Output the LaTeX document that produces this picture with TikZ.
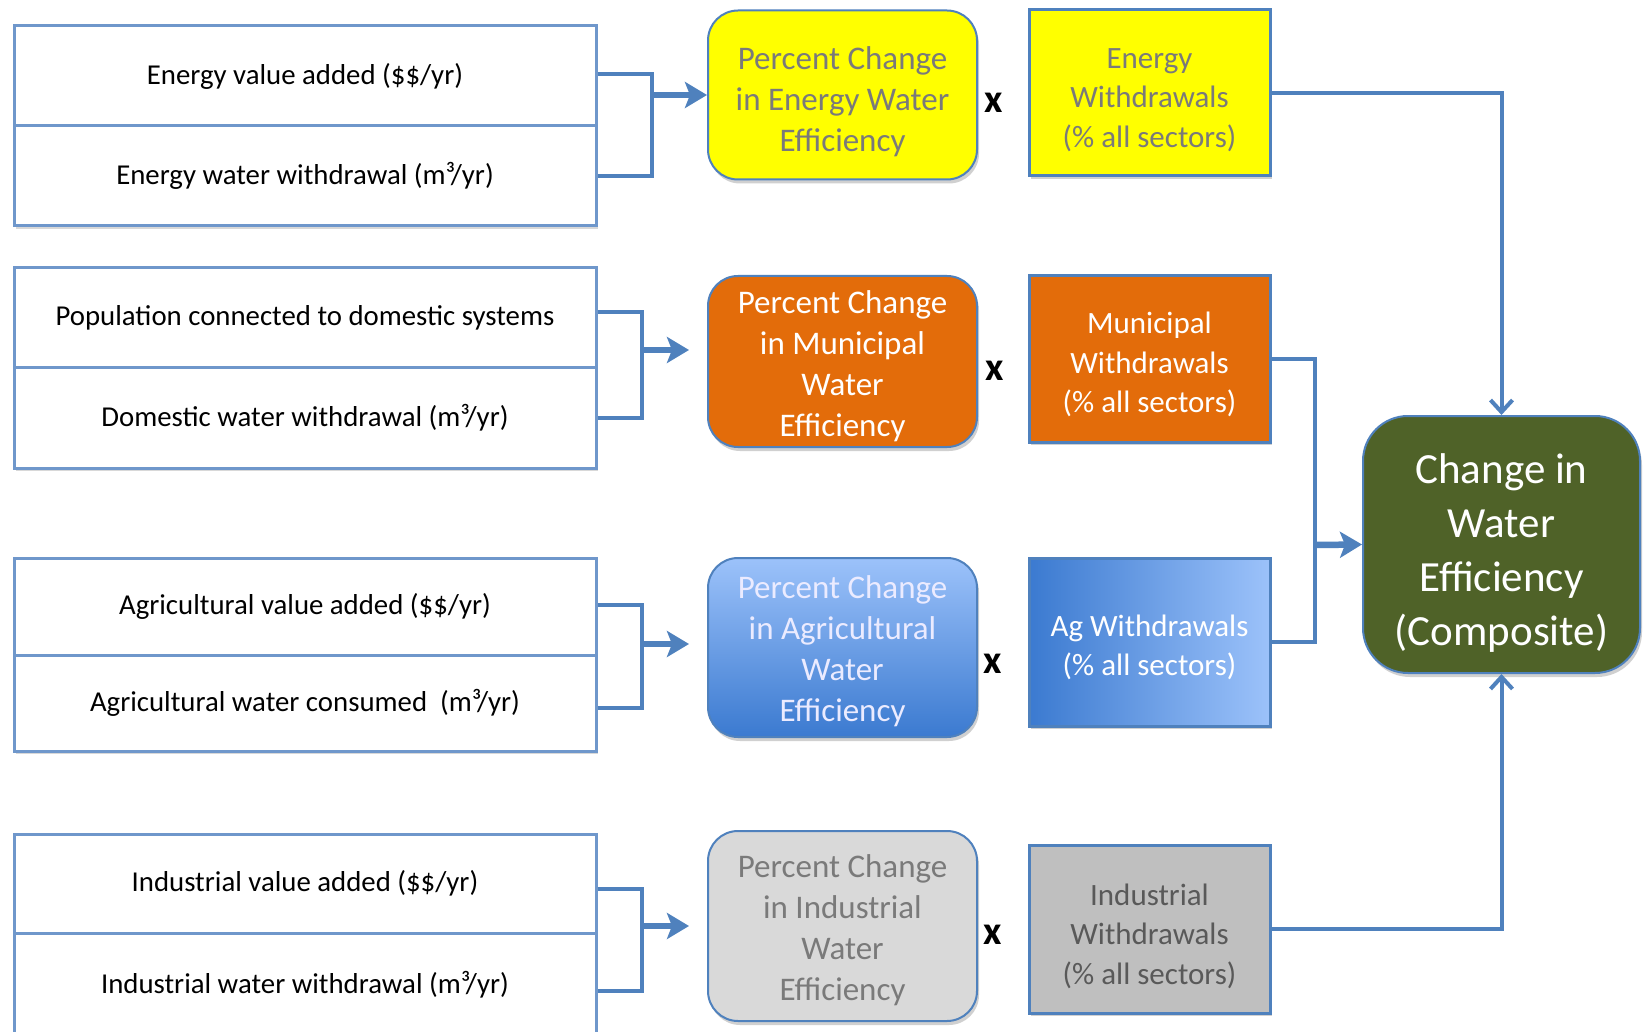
\documentclass[tikz,border=0pt]{standalone}
\usepackage{fontspec}
\setmainfont{Carlito}
\usetikzlibrary{arrows.meta,shadows,calc}
\definecolor{lineblue}{HTML}{4F81BD}
\definecolor{boxblue}{HTML}{6F97CB}
\definecolor{eyellow}{HTML}{FFFF00}
\definecolor{morange}{HTML}{E36C0A}
\definecolor{agdark}{HTML}{3B7AD0}
\definecolor{aglight}{HTML}{9CC2FA}
\definecolor{indlight}{HTML}{D9D9D9}
\definecolor{indmid}{HTML}{BFBFBF}
\definecolor{compgreen}{HTML}{4F6228}
\definecolor{greytext}{HTML}{7A7A7A}
\definecolor{darkgreytext}{HTML}{595959}
\tikzset{
  inbox/.style={draw=boxblue, line width=3pt, fill=white, minimum width=582pt, inner sep=0pt,
    font=\fontsize{28.8}{34}\selectfont, text=black,
    drop shadow={shadow xshift=2pt, shadow yshift=-3pt, opacity=0.25, fill=black!60}},
  pctbox/.style={draw=lineblue, line width=2pt, rounded corners=30pt, minimum width=269pt, inner sep=0pt,
    drop shadow={shadow xshift=2pt, shadow yshift=-4pt, opacity=0.3, fill=black!60}},
  pcttext/.style={align=center, inner sep=0pt, font=\fontsize{33}{41}\selectfont},
  wdbox/.style={draw=lineblue, line width=3pt, minimum width=241pt, minimum height=166pt, inner sep=0pt,
    drop shadow={shadow xshift=2pt, shadow yshift=-3pt, opacity=0.3, fill=black!60}},
  wdtext/.style={align=center, inner sep=0pt, font=\fontsize{31}{39.5}\selectfont},
  timesmark/.style={font=\fontsize{40}{44}\selectfont\bfseries, text=black, inner sep=0pt},
  conn/.style={draw=lineblue, line width=4pt},
  fatarrow/.style={draw=lineblue, line width=6.5pt, -{Stealth[length=22pt, width=26pt, inset=5pt]}},
  thinarrow/.style={draw=lineblue, line width=4pt, -{Straight Barb[length=12pt, width=22pt]}},
}
\begin{document}
\begin{tikzpicture}[x=1pt, y=-1pt]
\useasboundingbox (0,0) rectangle (1650,1032);
\fill[white] (0,0) rectangle (1650,1032);

% ---- left input boxes
\node[inbox, minimum height=100pt] (E1) at (305,76) {Energy value added (\$\$/yr)};
\node[inbox, minimum height=100pt] (E2) at (305,176) {Energy water withdrawal (m³/yr)};
\node[inbox, minimum height=100pt] (M1) at (305,318) {Population connected to domestic systems};
\node[inbox, minimum height=100pt] (M2) at (305,418) {Domestic water withdrawal (m³/yr)};
\node[inbox, minimum height=97pt] (A1) at (305,606.5) {Agricultural value added (\$\$/yr)};
\node[inbox, minimum height=96pt] (A2) at (305,703) {Agricultural water consumed\ \ (m³/yr)};
\node[inbox, minimum height=99pt] (I1) at (305,883.5) {Industrial value added (\$\$/yr)};
\node[inbox, minimum height=103pt] (I2) at (305,984.5) {Industrial water withdrawal (m³/yr)};

% ---- percent change boxes
\node[pctbox, fill=eyellow, minimum height=169pt] (PE) at (842.5,95) {};
\node[pctbox, fill=morange, minimum height=171pt] (PM) at (842.5,361.5) {};
\node[pctbox, top color=aglight, bottom color=agdark, minimum height=179pt] (PA) at (842.5,647.5) {};
\node[pctbox, fill=indlight, minimum height=190pt] (PI) at (842.5,926) {};
\node[pcttext, text=greytext] (PEt) at ($(PE.center)+(0,6.5)$) {Percent Change\\in Energy Water\\Efficiency};
\node[pcttext, text=white] (PMt) at ($(PM.center)+(0,5)$) {Percent Change\\in Municipal\\Water\\Efficiency};
\node[pcttext, text=white!92!blue] (PAt) at ($(PA.center)+(0,4)$) {Percent Change\\in Agricultural\\Water\\Efficiency};
\node[pcttext, text=greytext] (PIt) at ($(PI.center)+(0,4)$) {Percent Change\\in Industrial\\Water\\Efficiency};

% ---- multiplication marks
\node[timesmark] (XE) at (994,103) {x};
\node[timesmark] (XM) at (995,371) {x};
\node[timesmark] (XA) at (993,664) {x};
\node[timesmark] (XI) at (993,935) {x};

% ---- withdrawal share boxes
\node[wdbox, fill=eyellow] (WE) at (1149.5,93) {};
\node[wdbox, fill=morange] (WM) at (1149.5,359) {};
\node[wdbox, left color=agdark, right color=aglight, minimum height=168pt] (WA) at (1149.5,642) {};
\node[wdbox, fill=indmid, minimum height=168pt] (WI) at (1149.5,929) {};
\node[wdtext, text=greytext] (WEt) at ($(WE.center)+(0,7)$) {Energy\\Withdrawals\\(\% all sectors)};
\node[wdtext, text=white] (WMt) at ($(WM.center)+(0,5.5)$) {Municipal\\Withdrawals\\(\% all sectors)};
\node[wdtext, text=white] (WAt) at ($(WA.center)+(0,5.5)$) {Ag Withdrawals\\(\% all sectors)};
\node[wdtext, text=darkgreytext] (WIt) at ($(WI.center)+(0,7)$) {Industrial\\Withdrawals\\(\% all sectors)};

% ---- composite
\node[draw=lineblue, line width=2pt, fill=compgreen, rounded corners=45pt, minimum width=277pt, minimum height=257pt,
  inner sep=0pt,
  drop shadow={shadow xshift=2pt, shadow yshift=-4pt, opacity=0.3, fill=black!60}] (C) at (1501.5,544.5) {};
\node[align=center, inner sep=0pt, text=white, font=\fontsize{43}{54}\selectfont] (Ct) at ($(C.center)+(0,9)$)
  {Change in\\Water\\Efficiency\\(Composite)};

% ---- bracket joins and arrows
\coordinate (bE) at (652,95);
\coordinate (bM) at (642,350);
\coordinate (bA) at (642,644);
\coordinate (bI) at (642,926);
\draw[conn] ($(E1.east)+(0,-2)$) -| (bE) |- (E2.east);
\draw[conn] ($(M1.east)+(0,-6)$) -| (bM) |- (M2.east);
\draw[conn] ($(A1.east)+(0,-1.5)$) -| (bA) |- ($(A2.east)+(0,5)$);
\draw[conn] ($(I1.east)+(0,5.5)$) -| (bI) |- ($(I2.east)+(0,6.5)$);
\draw[fatarrow] (bE) -- (bE -| PE.west);
\draw[fatarrow] (bM) -- ($(bM -| PM.west)+(-18,0)$);
\draw[fatarrow] (bA) -- ($(bA -| PA.west)+(-18,0)$);
\draw[fatarrow] (bI) -- ($(bI -| PI.west)+(-18,0)$);

% ---- to composite
\coordinate (jn) at (1315,545);
\draw[thinarrow] (WE.east) -| (C.north);
\draw[thinarrow] (WI.east) -| (C.south);
\draw[conn] (WM.east) -| (jn) |- (WA.east);
\draw[fatarrow] (jn) -- (C.west);
\end{tikzpicture}
\end{document}
